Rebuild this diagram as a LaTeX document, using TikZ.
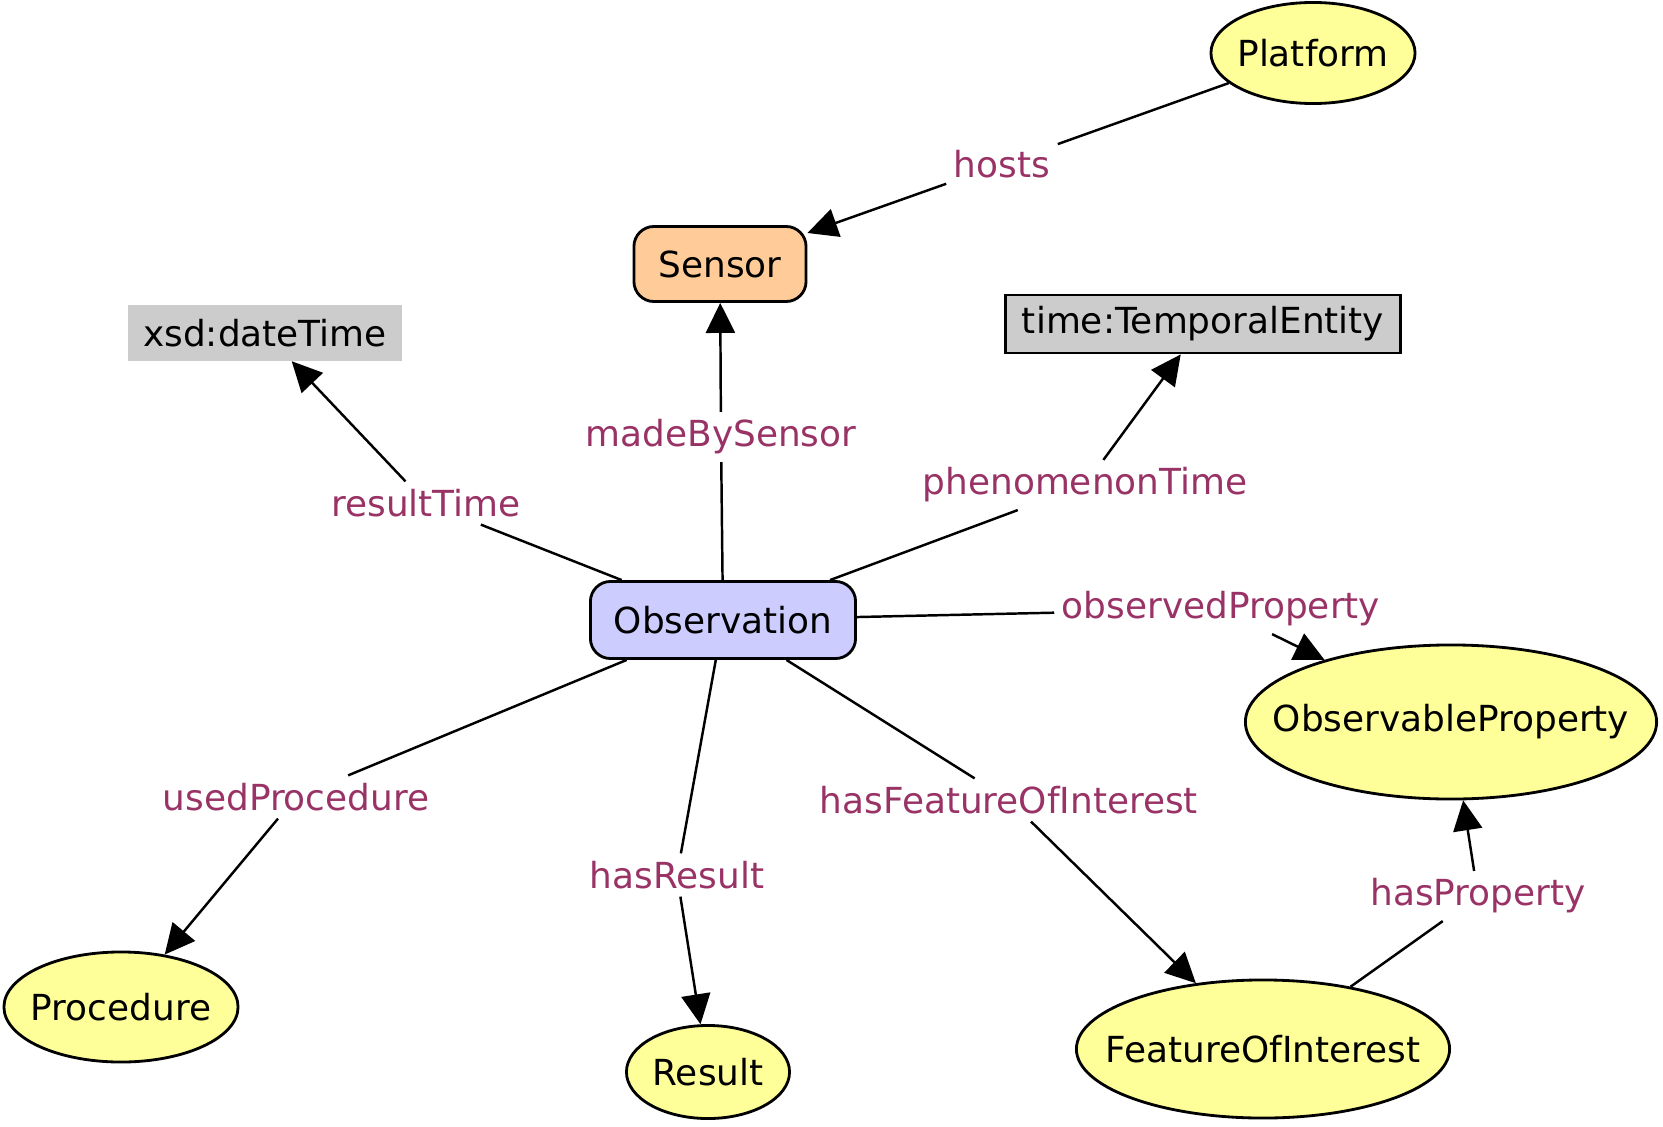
\documentclass[tikz,border=0pt]{standalone}
\usepackage{fontspec}
\setmainfont{DejaVu Sans}
\usepackage{tikz}
\usetikzlibrary{shapes.geometric, arrows.meta}
\definecolor{proplabel}{HTML}{993366}
\definecolor{classfill}{HTML}{FFFF99}
\definecolor{sensorfill}{HTML}{FFCC99}
\definecolor{obsfill}{HTML}{CCCCFF}
\definecolor{typefill}{HTML}{CCCCCC}

\begin{document}
\begin{tikzpicture}
        [
            x=0.01cm, y=-0.01cm,
            font=\fontsize{10.2}{12}\selectfont,
            cls/.style={ellipse, draw, line width=0.8pt, fill=classfill,
                        inner sep=0pt, label=center:#1},
            box/.style={rectangle, draw, line width=0.8pt, rounded corners=0.2cm,
                        inner sep=0pt},
            dtype/.style={rectangle, fill=typefill, inner sep=0pt},
            prop/.style={text=proplabel, inner sep=2pt},
            link/.style={line width=0.7pt},
            >={Triangle[length=0.3cm, width=0.29cm]}
        ]
        \useasboundingbox (0,0) rectangle (1663,1127);
        % classes
        \node (platform) [cls=Platform, minimum width=2.04cm, minimum height=1.01cm] at (1313,53) {};
        \node (sensor) [box, fill=sensorfill, minimum width=1.72cm, minimum height=0.75cm] at (720,264) {Sensor};
        \node (xsd) [dtype, minimum width=2.74cm, minimum height=0.55cm] at (265,333) {xsd:dateTime};
        \node (temporal) [dtype, draw, line width=0.8pt, minimum width=3.95cm, minimum height=0.58cm] at (1203,324) {time:TemporalEntity};
        \node (obs) [box, fill=obsfill, minimum width=2.65cm, minimum height=0.77cm] at (723,620) {Observation};
        \node (obsprop) [cls=ObservableProperty, minimum width=4.11cm, minimum height=1.54cm] at (1451,722) {};
        \node (procedure) [cls=Procedure, minimum width=2.34cm, minimum height=1.10cm] at (121,1007) {};
        \node (result) [cls=Result, minimum width=1.63cm, minimum height=0.93cm] at (708,1072) {};
        \node (foi) [cls=FeatureOfInterest, minimum width=3.73cm, minimum height=1.38cm] at (1263,1049) {};
        % property labels
        \node (hosts) [prop] at (1002,164) {hosts};
        \node (madeby) [prop] at (721,437) {madeBySensor};
        \node (restime) [prop] at (426,503) {resultTime};
        \node (phentime) [prop] at (1085,485) {phenomenonTime};
        \node (obsd) [prop] at (1221,609) {observedProperty};
        \node (usedproc) [prop] at (296,797) {usedProcedure};
        \node (hasres) [prop] at (677,875) {hasResult};
        \node (hasfoi) [prop] at (1009,800) {hasFeatureOfInterest};
        \node (hasprop) [prop] at (1478,896) {hasProperty};
        % edges: source -- label -> target
        \foreach \s/\l/\t in {platform/hosts/sensor, obs/madeby/sensor,
                              obs/restime/xsd, obs/phentime/temporal,
                              obs/obsd/obsprop, obs/usedproc/procedure,
                              obs/hasres/result, obs/hasfoi/foi,
                              foi/hasprop/obsprop}
        {
            \draw [link] (\s) -- (\l);
            \draw [link, ->] (\l) -- (\t);
        }
    \end{tikzpicture}
\end{document}
